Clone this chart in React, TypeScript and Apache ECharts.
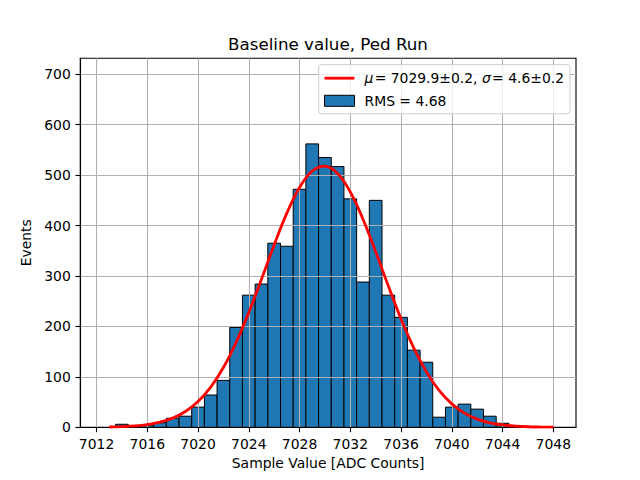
import React, { useEffect, useRef } from "react";
import * as echarts from "echarts";

const histBins = [7014, 7015, 7016, 7017, 7018, 7019, 7020, 7021, 7022, 7023, 7024, 7025, 7026, 7027, 7028, 7029, 7030, 7031, 7032, 7033, 7034, 7035, 7036, 7037, 7038, 7039, 7040, 7041, 7042, 7043, 7044, 7045];
const histCounts = [6, 2, 4, 9, 18, 22, 40, 64, 93, 198, 262, 284, 365, 359, 472, 562, 535, 517, 453, 288, 450, 262, 218, 153, 129, 20, 40, 46, 36, 22, 8, 1];

const fitX = [7013, 7014, 7015, 7016, 7017, 7018, 7019, 7020, 7021, 7022, 7023, 7024, 7025, 7026, 7027, 7028, 7029, 7030, 7031, 7032, 7033, 7034, 7035, 7036, 7037, 7038, 7039, 7040, 7041, 7042, 7043, 7044, 7045, 7046, 7047, 7048];
const fitY = [0.6, 1.3, 2.7, 5.4, 10.2, 18.2, 31.3, 51.1, 79.7, 118.5, 168.2, 227.6, 293.7, 361.6, 424.7, 475.6, 508.2, 517.9, 503.4, 466.7, 412.7, 348.2, 280.2, 215.0, 157.4, 109.9, 73.2, 46.5, 28.2, 16.3, 9.0, 4.7, 2.4, 1.1, 0.5, 0.2];

const xTicks = [7012, 7016, 7020, 7024, 7028, 7032, 7036, 7040, 7044, 7048];
const yTicks = [0, 100, 200, 300, 400, 500, 600, 700];

const titleText = "Baseline value, Ped Run";
const xLabel = "Sample Value [ADC Counts]";
const yLabel = "Events";
const fitName = "fit";
const histName = "hist";
const fitLegend = "{i|μ}\u200A= 7029.9±0.2, {i|σ}\u200A= 4.6±0.2";
const histLegend = "RMS = 4.68";

const FONT = "DejaVu Sans";
const FS = 13.9;
const LINE_ICON = "path://M0,0 L0,0 M0,4.1 L30,4.1 L30,6.9 L0,6.9 Z M30,11 L30,11";

export default function App() {
  const ref = useRef<HTMLDivElement>(null);
  useEffect(() => {
    document.body.style.margin = "0";
    const chart = echarts.init(ref.current!, null, { renderer: "svg" });
    chart.setOption({
      animation: false,
      backgroundColor: "#ffffff",
      textStyle: { fontFamily: FONT },
      grid: {
        left: 80.3,
        right: 64,
        top: 58.3,
        bottom: 52.7,
        show: true,
        borderColor: "#000",
        borderWidth: 1.1,
        backgroundColor: "transparent",
      },
      graphic: [
        {
          type: "text",
          x: 328,
          y: 44,
          z: 10,
          style: {
            text: titleText,
            fontFamily: FONT,
            fontSize: 16.7,
            fill: "#000",
            textAlign: "center",
            textVerticalAlign: "middle",
          },
        },
      ],
      legend: {
        orient: "vertical",
        left: 318.7,
        top: 64.7,
        padding: [6.5, 6, 6, 5.3],
        itemGap: 8.6,
        itemWidth: 30,
        itemHeight: 11,
        backgroundColor: "rgba(255,255,255,0.8)",
        borderColor: "#cccccc",
        borderWidth: 1,
        borderRadius: 3,
        z: 10,
        data: [
          {
            name: fitName,
            icon: LINE_ICON,
            itemStyle: { color: "#ff0000", borderWidth: 0 },
          },
          {
            name: histName,
            icon: "rect",
            itemStyle: { color: "#1f77b4", borderColor: "#000", borderWidth: 1 },
          },
        ],
        formatter: (name: string) => (name === fitName ? fitLegend : histLegend),
        textStyle: {
          fontFamily: FONT,
          fontSize: FS,
          color: "#000",
          padding: [0, 0, 0, 5],
          rich: {
            i: { fontFamily: FONT, fontSize: FS, fontStyle: "italic", color: "#000" },
          },
        },
      },
      xAxis: {
        type: "value",
        min: 7010.72,
        max: 7049.79,
        z: 3,
        name: xLabel,
        nameLocation: "middle",
        nameGap: 26,
        nameTextStyle: { fontFamily: FONT, fontSize: FS, color: "#000" },
        axisLine: { show: true, lineStyle: { color: "#000", width: 1.1 } },
        axisTick: {
          show: true,
          inside: false,
          length: 4.9,
          lineStyle: { color: "#000", width: 1.1 },
          customValues: xTicks,
        },
        axisLabel: {
          margin: 9.5,
          fontFamily: FONT,
          fontSize: FS,
          color: "#000",
          customValues: xTicks,
          formatter: (v: number) => String(v),
        },
        splitLine: { show: true, lineStyle: { color: "#b0b0b0", width: 1.1 } },
      },
      yAxis: {
        type: "value",
        min: 0,
        max: 731.7,
        z: 3,
        name: yLabel,
        nameLocation: "middle",
        nameGap: 37.5,
        nameTextStyle: { fontFamily: FONT, fontSize: FS, color: "#000" },
        axisLine: { show: true, lineStyle: { color: "#000", width: 1.1 } },
        axisTick: {
          show: true,
          inside: false,
          length: 4.9,
          lineStyle: { color: "#000", width: 1.1 },
          customValues: yTicks,
        },
        axisLabel: {
          margin: 9.5,
          fontFamily: FONT,
          fontSize: FS,
          color: "#000",
          customValues: yTicks,
          formatter: (v: number) => String(v),
        },
        splitLine: { show: true, lineStyle: { color: "#b0b0b0", width: 1.1 } },
      },
      series: [
        {
          name: histName,
          type: "custom",
          z: 2,
          itemStyle: { color: "#1f77b4", borderColor: "#000", borderWidth: 1 },
          encode: { x: 0, y: 1 },
          data: histBins.map((b, i) => [b, histCounts[i]]),
          renderItem: (params: any, api: any) => {
            const x = api.value(0);
            const y = api.value(1);
            const p0 = api.coord([x - 0.5, y]);
            const p1 = api.coord([x + 0.5, 0]);
            return {
              type: "rect",
              shape: { x: p0[0], y: p0[1], width: p1[0] - p0[0], height: p1[1] - p0[1] },
              style: { fill: "#1f77b4", stroke: "#000", lineWidth: 1 },
            };
          },
        },
        {
          name: fitName,
          type: "line",
          z: 5,
          smooth: 0.4,
          symbol: "none",
          showSymbol: false,
          lineStyle: { color: "#ff0000", width: 2.8 },
          itemStyle: { color: "#ff0000" },
          data: fitX.map((x, i) => [x, fitY[i]]),
        },
      ],
    });
    return () => chart.dispose();
  }, []);
  return <div ref={ref} style={{ width: 640, height: 480 }} />;
}
